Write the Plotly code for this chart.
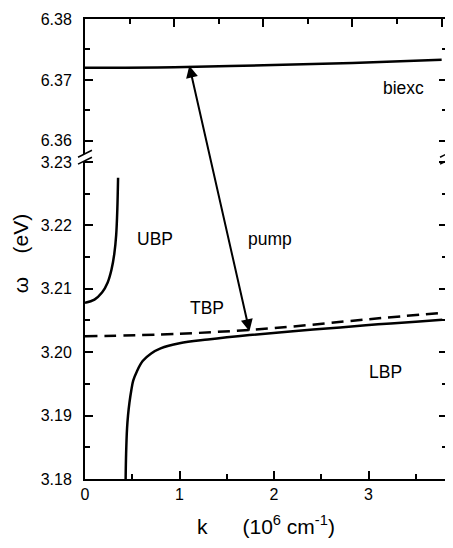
import plotly.graph_objects as go

# dispersion branches, k in 1e6 cm^-1, omega in eV
ubp_k = [0.0, 0.1, 0.18, 0.24, 0.28, 0.31, 0.33, 0.342, 0.35]
ubp_w = [3.2078, 3.2083, 3.2094, 3.2110, 3.2130, 3.2155, 3.2185, 3.2225, 3.2275]

lbp_k = [0.43, 0.435, 0.445, 0.455, 0.47, 0.49, 0.51, 0.55, 0.61, 0.7, 0.8, 1.0, 1.3, 1.74, 2.2, 2.7, 3.1, 3.5, 3.78]
lbp_w = [3.1800, 3.1840, 3.1880, 3.1900, 3.1920, 3.1940, 3.1955, 3.1970, 3.1986, 3.1998, 3.2006,
         3.2014, 3.2020, 3.2027, 3.2033, 3.2039, 3.2044, 3.2048, 3.2051]

tbp_k = [0.0, 1.0, 2.0, 3.0, 3.78]
tbp_w = [3.2025, 3.2029, 3.2038, 3.2052, 3.2062]

# biexciton panel uses its own k scale (top axis)
biexc_k = [0.0, 1.0, 2.0, 3.0, 4.0]
biexc_w = [6.3720, 6.3721, 6.3724, 6.3728, 6.3733]

pump_from = (1.74, 3.2033)   # (k, omega) on the lower panel
pump_to = (1.17, 6.3722)     # (k, omega) on the upper panel

labels = [
    ("biexc", "x2", "y2", 3.57, 6.3687),
    ("UBP", "x", "y", 0.74, 3.2178),
    ("pump", "x", "y", 1.96, 3.2178),
    ("TBP", "x", "y", 1.29, 3.2070),
    ("LBP", "x", "y", 3.18, 3.1969),
]

x_range = [0, 3.83]
x2_range = [0, 4.06]
y_range = [3.18, 3.2302]
y2_range = [6.35789, 6.38]
y_dom = [0, 0.692]
y2_dom = [0.7071, 1]

# the page has an 8px body margin, so the figure is shrunk by that much
W, H = 445, 540
M = dict(l=77, r=4, t=7, b=69)
PW = W - M["l"] - M["r"]
PH = H - M["t"] - M["b"]


def px(k, rng):
    return M["l"] + (k - rng[0]) / (rng[1] - rng[0]) * PW


def py(w, rng, dom):
    frac = dom[0] + (w - rng[0]) / (rng[1] - rng[0]) * (dom[1] - dom[0])
    return M["t"] + (1 - frac) * PH


font = "Liberation Sans, Arial, sans-serif"
line = dict(color="black", width=2.5)

fig = go.Figure()
fig.add_trace(go.Scatter(x=ubp_k, y=ubp_w, mode="lines", line=dict(line, shape="spline"), xaxis="x", yaxis="y"))
fig.add_trace(go.Scatter(x=lbp_k, y=lbp_w, mode="lines", line=dict(line, shape="spline"), xaxis="x", yaxis="y"))
fig.add_trace(go.Scatter(x=tbp_k, y=tbp_w, mode="lines",
                         line=dict(color="black", width=2.5, dash="12px,7px", shape="spline"), xaxis="x", yaxis="y"))
fig.add_trace(go.Scatter(x=biexc_k, y=biexc_w, mode="lines", line=dict(line, shape="spline"), xaxis="x2", yaxis="y2"))

# pump arrow (double headed) between the two panels
x_a, y_a = px(pump_from[0], x_range), py(pump_from[1], y_range, y_dom)
x_b, y_b = px(pump_to[0], x2_range), py(pump_to[1], y2_range, y2_dom)
fig.add_annotation(x=pump_from[0], y=pump_from[1], xref="x", yref="y",
                   ax=x_b - x_a, ay=y_b - y_a, axref="pixel", ayref="pixel",
                   showarrow=True, arrowhead=2, startarrowhead=2, arrowside="end+start",
                   arrowsize=1.2, startarrowsize=1.2, arrowwidth=2, arrowcolor="black", text="")

for txt, xr, yr, xv, yv in labels:
    fig.add_annotation(x=xv, y=yv, xref=xr, yref=yr, text=txt, showarrow=False,
                       font=dict(size=17.5, color="black", family=font))

# axis titles
fig.add_annotation(x=0.5, y=-0.099, xref="paper", yref="paper", yanchor="middle", xanchor="center",
                   text="k" + "\u00a0" * 6 + "(10<sup>6</sup> cm<sup>-1</sup>)", showarrow=False,
                   font=dict(size=21, color="black", family=font))
fig.add_annotation(x=-0.178, y=0.49, xref="paper", yref="paper", textangle=-90,
                   xanchor="center", yanchor="middle",
                   text="\u03c9" + "\u00a0" * 4 + "(eV)", showarrow=False,
                   font=dict(size=21, color="black", family=font))

# break marks on both vertical axes
for xp in (0, 1):
    for yp in (y2_dom[0], y_dom[1]):
        fig.add_shape(type="line", xref="paper", yref="paper",
                      x0=xp - 7 / PW, x1=xp + 7 / PW, y0=yp - 3.5 / PH, y1=yp + 3.5 / PH,
                      line=dict(color="black", width=1.5))

tick_common = dict(ticks="inside", ticklen=8, tickwidth=1.5, tickcolor="black",
                   showline=True, linecolor="black", linewidth=2, showgrid=False, zeroline=False,
                   tickfont=dict(size=16, color="black", family=font))

fig.update_layout(
    width=W, height=H, margin=M, showlegend=False,
    plot_bgcolor="white", paper_bgcolor="white",
    xaxis=dict(tick_common, domain=[0, 1], range=x_range, anchor="y", dtick=1, tick0=0,
               minor=dict(dtick=0.5, tick0=0, ticks="inside", ticklen=5, tickcolor="black")),
    yaxis=dict(tick_common, domain=y_dom, range=y_range, anchor="x", dtick=0.01, tick0=3.18,
               tickformat=".2f", mirror="ticks", ticklabelstandoff=8,
               minor=dict(dtick=0.005, tick0=3.18, ticks="inside", ticklen=5, tickcolor="black")),
    xaxis2=dict(tick_common, domain=[0, 1], range=x2_range, anchor="y2", side="top", dtick=1, tick0=0,
                showticklabels=False,
                minor=dict(dtick=0.5, tick0=0, ticks="inside", ticklen=5, tickcolor="black")),
    yaxis2=dict(tick_common, domain=y2_dom, range=y2_range, anchor="x2", dtick=0.01, tick0=6.36,
                tickformat=".2f", mirror="ticks", ticklabelstandoff=8,
                minor=dict(dtick=0.005, tick0=6.36, ticks="inside", ticklen=5, tickcolor="black")),
)

fig.write_html("out.html")
